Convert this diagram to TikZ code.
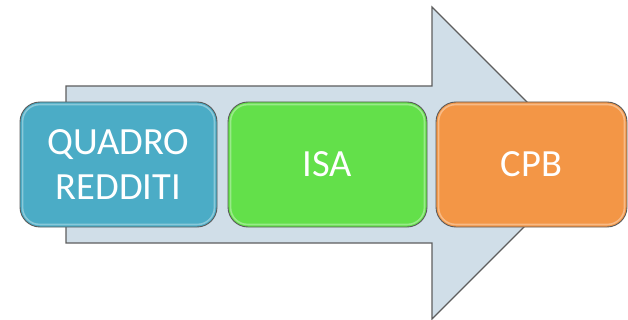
\documentclass[tikz,border=0pt]{standalone}
\usepackage{fontspec}
\setmainfont{Carlito}
\usetikzlibrary{calc}
\definecolor{arrowfill}{HTML}{D0DEE8}
\definecolor{arrowline}{HTML}{5E5E5E}
\definecolor{boxblue}{HTML}{4BACC6}
\definecolor{boxgreen}{HTML}{63E04A}
\definecolor{boxorange}{HTML}{F39646}
\definecolor{boxline}{HTML}{5A5A5A}
\tikzset{
  bigarrow/.style={fill=arrowfill, draw=arrowline, line width=1.1pt, line join=miter},
  stagebox/.style={draw=boxline, line width=0.9pt, rounded corners=20pt,
    minimum width=197pt, minimum height=125pt, inner sep=0pt,
    text=white, align=center, font=\fontsize{38.5}{45}\selectfont},
  gloss/.style={draw=white, draw opacity=0.35, line width=1.6pt, rounded corners=17pt}
}
\begin{document}
\begin{tikzpicture}[x=1pt,y=-1pt]
\useasboundingbox (0,0) rectangle (628,320);
\draw[bigarrow] (66,86) -- (432,86) -- (432,7) -- (588,163) -- (432,319) -- (432,243) -- (66,243) -- cycle;
\node[stagebox, fill=boxblue] (q) at (118.5,164.5) {QUADRO\\REDDITI};
\node[stagebox, fill=boxgreen, minimum width=199pt] (isa) at (327.5,164.5) {ISA};
\node[stagebox, fill=boxorange, minimum width=191pt] (cpb) at (531.5,164.5) {CPB};
\foreach \n in {q,isa,cpb}{
  \draw[gloss] ($(\n.north west)+(3,3)$) rectangle ($(\n.south east)+(-3,-3)$);
}
\end{tikzpicture}
\end{document}
